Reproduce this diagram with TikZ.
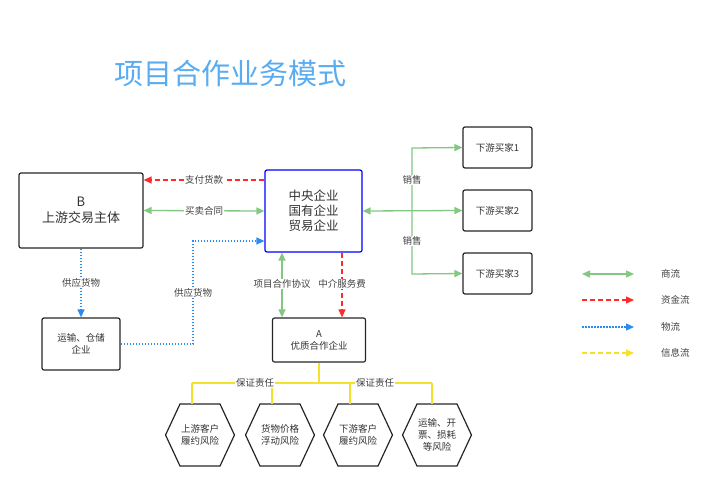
\documentclass[tikz,border=0pt]{standalone}
\usepackage{fontspec}
\setmainfont{Noto Sans CJK SC}
\usetikzlibrary{arrows.meta,shapes.symbols}
\definecolor{shang}{HTML}{82C882}
\definecolor{zijin}{HTML}{FF2A2A}
\definecolor{wu}{HTML}{2A8CF0}
\definecolor{xinxi}{HTML}{F5E02A}
\definecolor{titleblue}{HTML}{5AACF0}
\begin{document}
\begin{tikzpicture}[x=1pt, y=-1pt,
	box/.style = {draw=black!85, line width=1.2pt, rounded corners=2pt, fill=white, align=center, font=\fontsize{9.5}{12}\selectfont, text=black!80},
	hex/.style = {draw=black!85, line width=1.2pt, shape=signal, signal to=west and east, signal pointer angle=130, minimum width=65, minimum height=62, align=center, font=\fontsize{9.5}{12}\selectfont, text=black!80, inner sep=1pt},
	lbl/.style = {fill=white, inner sep=1pt, font=\fontsize{9.5}{11}\selectfont, text=black!75},
	sl/.style = {shang, line width=1.3pt, {Triangle[length=8pt,width=7pt]}-{Triangle[length=8pt,width=7pt]}},
	sl1/.style = {shang, line width=1.3pt, -{Triangle[length=8pt,width=7pt]}},
	zj/.style = {zijin, line width=1.3pt, dash pattern=on 5pt off 3pt, -{Triangle[length=8pt,width=7pt]}},
	wl/.style = {wu, line width=1.3pt, dash pattern=on 1.5pt off 1.5pt, -{Triangle[length=8pt,width=7pt]}},
	xx/.style = {xinxi, line width=1.5pt},
	xxa/.style = {xinxi, line width=1.3pt, dash pattern=on 5pt off 3pt, -{Triangle[length=8pt,width=7pt]}}]

	\useasboundingbox (0,0) rectangle (720,479);

	\node[text=titleblue, font=\fontsize{29}{32}\selectfont] (title) at (230,73) {项目合作业务模式};

	% boxes
	\node[box, minimum width=124, minimum height=75, font=\fontsize{13}{16}\selectfont] (B) at (81,210.5) {B\\上游交易主体};
	\node[box, draw=blue, minimum width=97, minimum height=82, font=\fontsize{12.5}{15}\selectfont] (C) at (313.5,211) {中央企业\\国有企业\\贸易企业};
	\node[box, minimum width=69, minimum height=41] (d1) at (497.5,147.5) {下游买家1};
	\node[box, minimum width=69, minimum height=41] (d2) at (497.5,210.5) {下游买家2};
	\node[box, minimum width=69, minimum height=41] (d3) at (497.5,273.5) {下游买家3};
	\node[box, minimum width=78, minimum height=52] (T) at (81,344) {运输、仓储\\企业};
	\node[box, minimum width=93, minimum height=44] (A) at (319,340) {A\\优质合作企业};

	\node[hex] (h1) at (200,435) {上游客户\\履约风险};
	\node[hex] (h2) at (280,435) {货物价格\\浮动风险};
	\node[hex] (h3) at (358,435) {下游客户\\履约风险};
	\node[hex] (h4) at (437,435) {运输、开\\票、损耗\\等风险};

	% flows
	\draw[zj] (C.west |- 0,180) -- node[lbl] {支付货款} (B.east |- 0,180);
	\draw[sl] (B.east) -- node[lbl] {买卖合同} (C.west);
	\draw[wl] (B.south) -- node[lbl] {供应货物} (T.north);
	\draw[wl] (T.east) -- (193,344) -- node[lbl] {供应货物} (193,241) -- (C.west |- 0,241);
	\draw[sl] (C.south -| 282,0) -- (A.north -| 282,0);
	\node[lbl] at (282,284) {项目合作协议};
	\draw[zj] (C.south -| 342,0) -- (A.north -| 342,0);
	\node[lbl] at (342,284) {中介服务费};

	\draw[sl] (C.east) -- (d2.west);
	\draw[sl1] (412,211) -- (412,148) -- (d1.west);
	\draw[sl1] (412,211) -- (412,274) -- (d3.west);
	\node[lbl] at (412,180) {销售};
	\node[lbl] at (412,241) {销售};

	\draw[xx] (A.south) -- (319,383);
	\draw[xx] (192,383) -- (432,383);
	\draw[xx] (192,383) -- (192,404);
	\draw[xx] (272,383) -- (272,404);
	\draw[xx] (350,383) -- (350,404);
	\draw[xx] (432,383) -- (432,404);
	\node[lbl] at (255,383) {保证责任};
	\node[lbl] at (375,383) {保证责任};

	% legend
	\coordinate (l1) at (582,274); \coordinate (r1) at (634,274);
	\coordinate (l2) at (582,300); \coordinate (r2) at (634,300);
	\coordinate (l3) at (582,327); \coordinate (r3) at (634,327);
	\coordinate (l4) at (582,353); \coordinate (r4) at (634,353);
	\draw[sl] (l1) -- (r1);
	\draw[zj] (l2) -- (r2);
	\draw[wl] (l3) -- (r3);
	\draw[xxa] (l4) -- (r4);
	\node[lbl, anchor=west] at (660,274) {商流};
	\node[lbl, anchor=west] at (660,300) {资金流};
	\node[lbl, anchor=west] at (660,327) {物流};
	\node[lbl, anchor=west] at (660,353) {信息流};
\end{tikzpicture}
\end{document}
